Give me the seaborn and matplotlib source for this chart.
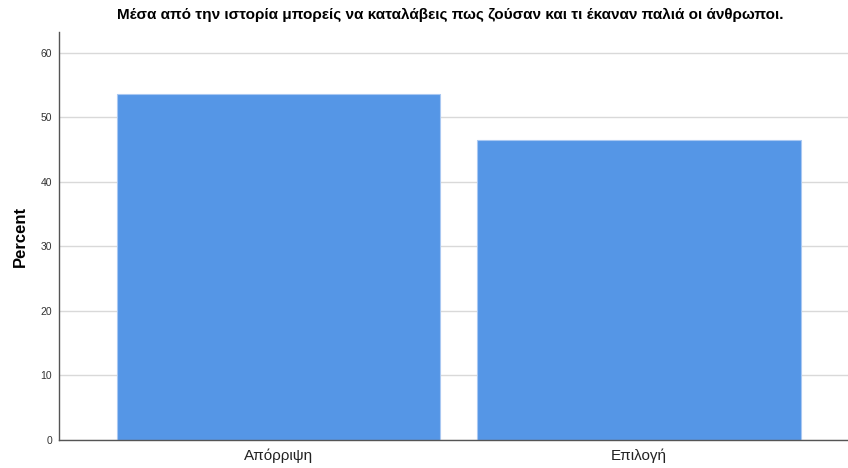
import matplotlib.pyplot as plt
import pandas as pd
import seaborn as sns

categories = ['Απόρριψη', 'Επιλογή']
percent = [53.6, 46.4]
title = 'Μέσα από την ιστορία μπορείς να καταλάβεις πως ζούσαν και τι έκαναν παλιά οι άνθρωποι.'

df = pd.DataFrame({'category': categories, 'percent': percent})

sns.set_style('white')
plt.rcParams['font.family'] = ['Liberation Sans', 'DejaVu Sans']

fig = plt.figure(figsize=(8.48, 4.68), dpi=100)
ax = fig.add_axes([0.0696, 0.0598, 0.9304, 0.8718])

sns.barplot(data=df, x='category', y='percent', color='#5596E6', saturation=1,
            width=0.897, edgecolor='#a9c8f2', linewidth=0.8, ax=ax, zorder=2)

ax.set_xlim(-0.61, 1.58)
ax.set_ylim(0, 63.2)
ax.set_yticks([0, 10, 20, 30, 40, 50, 60])
ax.yaxis.grid(True, color='#d9d9d9', linewidth=1, zorder=0)
ax.set_axisbelow(True)

for s in ['top', 'right']:
    ax.spines[s].set_visible(False)
for s in ['left', 'bottom']:
    ax.spines[s].set_color('#555555')
    ax.spines[s].set_linewidth(1)

ax.tick_params(axis='y', labelsize=7.5, colors='#333333', length=0, pad=5)
ax.tick_params(axis='x', labelsize=11, colors='#222222', length=0, pad=6)
ax.set_xlabel('')
ax.set_ylabel('Percent', fontsize=12, fontweight='bold', labelpad=9, color='black')
fig.text(0.5307, 0.968, title, ha='center', va='center', fontsize=11,
         fontweight='bold', color='black')

fig.savefig('out.png', dpi=100)
